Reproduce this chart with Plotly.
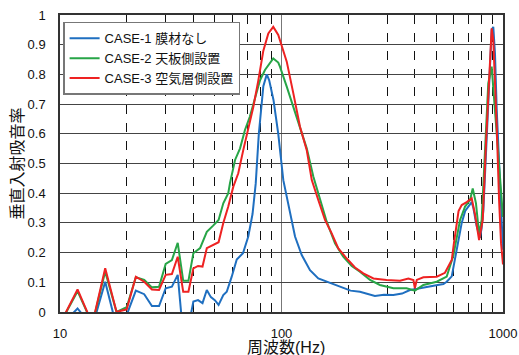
import plotly.graph_objects as go

# ---- data ----
f_case1 = [10, 12, 14, 16, 18, 20, 22, 24, 26, 28, 30, 32, 34, 36, 38, 40, 42, 44, 46, 48,
           50, 52, 54.6, 56.6, 59.6, 62.8, 67, 70.8, 74, 76.5, 79, 82.8, 85.8, 88, 92, 96.7,
           101.9, 109.2, 115.1, 123.4, 134.5, 146.6, 160, 175, 190, 205, 226, 245, 264, 290,
           320, 350, 380, 410, 452, 500, 538, 557, 587, 605, 628, 651, 675, 700, 722, 735,
           760, 787, 800, 815, 844, 867, 889, 904, 920, 937, 962, 986, 1000]
v_case1 = [-0.05, 0.012, -0.05, 0.102, -0.05, -0.01, 0.072, 0.06, 0.02, 0.02, 0.08, 0.085, 0.125, -0.08, -0.05, 0.035, 0.04, 0.03, 0.074, 0.05,
           0.04, 0.024, 0.057, 0.068, 0.119, 0.177, 0.198, 0.254, 0.33, 0.433, 0.6, 0.76, 0.80, 0.78, 0.714, 0.6,
           0.444, 0.332, 0.254, 0.192, 0.141, 0.113, 0.102, 0.09, 0.08, 0.072, 0.068, 0.06, 0.054, 0.058,
           0.057, 0.062, 0.074, 0.078, 0.085, 0.09, 0.094, 0.102, 0.12, 0.17, 0.23, 0.30, 0.34, 0.355, 0.37, 0.35,
           0.29, 0.25, 0.28, 0.34, 0.568, 0.79, 0.95, 0.96, 0.87, 0.68, 0.51, 0.32, 0.21]

f_case2 = [10, 12, 14, 16, 18, 20, 22, 24, 26, 28, 30, 32, 34, 36, 38, 40, 42.9, 46, 49, 52,
           54.6, 57.5, 58.5, 61.7, 65, 68.4, 72, 76, 80, 84.2, 88.7, 91.8, 96.7, 98.4, 105.6, 113.1,
           121.2, 130, 139.2, 149.2, 160, 174.4, 190, 207.5, 226, 251, 278, 320, 367, 400, 437, 502,
           557, 597, 640, 674, 710, 730, 740, 755, 774, 782, 801, 829, 858, 889, 920, 952, 986, 1000]
v_case2 = [-0.04, 0.07, -0.04, 0.136, 0.0, 0.016, 0.117, 0.108, 0.083, 0.085, 0.162, 0.175, 0.233, 0.105, 0.105, 0.198, 0.215, 0.27, 0.29, 0.31,
           0.366, 0.40, 0.433, 0.512, 0.551, 0.613, 0.658, 0.72, 0.78, 0.815, 0.837, 0.854, 0.84, 0.826, 0.759, 0.69,
           0.618, 0.551, 0.456, 0.377, 0.304, 0.231, 0.186, 0.155, 0.136, 0.108, 0.091, 0.08, 0.08, 0.072, 0.091, 0.102,
           0.119, 0.19, 0.31, 0.355, 0.377, 0.416, 0.394, 0.366, 0.287, 0.265, 0.31, 0.568, 0.77, 0.826, 0.68, 0.534, 0.39, 0.32]

f_case3 = [10, 12, 14, 16, 18, 20, 22, 24, 26, 28, 30, 32, 34, 36, 38, 40, 42, 44, 46, 49,
           52, 54.6, 57.5, 60.6, 63.8, 67.2, 70.8, 74.6, 78.6, 82.8, 87.2, 91.8, 96.7, 98.4, 105.6, 113.1,
           121.2, 130, 137, 146.6, 157.2, 168.5, 180.5, 197, 214.7, 234, 260, 298, 343, 374, 394, 400,
           408, 437, 502, 547, 566, 587, 600, 618, 630, 651, 686, 722, 747, 780, 810, 838, 867, 889,
           904, 920, 937, 960, 980, 1000]
v_case3 = [-0.04, 0.076, -0.04, 0.147, 0.0, 0.009, 0.119, 0.102, 0.076, 0.074, 0.125, 0.128, 0.186, 0.068, 0.068, 0.147, 0.155, 0.153, 0.215, 0.225,
           0.235, 0.30, 0.355, 0.422, 0.467, 0.545, 0.613, 0.69, 0.78, 0.88, 0.938, 0.96, 0.933, 0.916, 0.843, 0.736,
           0.624, 0.545, 0.444, 0.377, 0.31, 0.265, 0.214, 0.18, 0.15, 0.13, 0.113, 0.108, 0.105, 0.113, 0.108, 0.08,
           0.108, 0.117, 0.119, 0.132, 0.153, 0.175, 0.23, 0.29, 0.34, 0.36, 0.37, 0.383, 0.33, 0.242, 0.31, 0.568, 0.815, 0.955,
           0.915, 0.79, 0.624, 0.377, 0.231, 0.16]

series_names = ["CASE-1 膜材なし", "CASE-2 天板側設置", "CASE-3 空気層側設置"]
series_colors = ["#1F6FC0", "#27A547", "#EE2222"]

x_tick_vals = [10, 100, 1000]
x_tick_text = ["10", "100", "1000"]
x_minor_vals = [20, 30, 40, 50, 60, 70, 80, 90, 200, 300, 400, 500, 600, 700, 800, 900]
y_tick_vals = [0, 0.1, 0.2, 0.3, 0.4, 0.5, 0.6, 0.7, 0.8, 0.9, 1]
y_tick_text = ["0", "0.1", "0.2", "0.3", "0.4", "0.5", "0.6", "0.7", "0.8", "0.9", "1"]

x_title = "周波数(Hz)"
y_title = "垂直入射吸音率"

FONT = "Liberation Sans, Arial, Noto Sans CJK JP, sans-serif"

fig = go.Figure()
for fx, vy, name, col in zip([f_case1, f_case2, f_case3], [v_case1, v_case2, v_case3],
                             series_names, series_colors):
    fig.add_trace(go.Scatter(x=fx, y=vy, mode="lines", name=name,
                             line=dict(color=col, width=2)))

fig.update_layout(
    width=519, height=355,
    margin=dict(l=60, r=16, t=15, b=43, autoexpand=False),
    paper_bgcolor="white", plot_bgcolor="white",
    font=dict(family=FONT, size=13, color="#111"),
    showlegend=True,
    legend=dict(x=0.007, y=0.977, xanchor="left", yanchor="top",
                bgcolor="white", bordercolor="#777", borderwidth=1.5,
                font=dict(family=FONT, size=13, color="#111"),
                tracegroupgap=0, itemwidth=30),
    annotations=[
        dict(text=y_title, textangle=-90, xref="paper", yref="paper",
             x=-0.097, y=0.5, xanchor="center", yanchor="middle", showarrow=False,
             font=dict(family=FONT, size=16, color="#111")),
        dict(text=x_title, xref="paper", yref="paper",
             x=0.51, y=-0.085, xanchor="center", yanchor="top", showarrow=False,
             font=dict(family=FONT, size=16, color="#111")),
    ],
)

fig.update_xaxes(
    type="log", range=[1, 3], automargin=False,
    tickmode="array", tickvals=x_tick_vals, ticktext=x_tick_text,
    ticks="outside", ticklen=9, tickcolor="rgba(0,0,0,0)",
    showgrid=True, gridcolor="#777", gridwidth=1.3,
    minor=dict(tickmode="array", tickvals=x_minor_vals, showgrid=True,
               gridcolor="#111", griddash="dash", gridwidth=1, ticks=""),
    showline=True, linecolor="#333", linewidth=1.5, mirror=True,
    zeroline=False,
)
fig.update_yaxes(
    range=[0, 1], automargin=False, tickmode="array", tickvals=y_tick_vals, ticktext=y_tick_text,
    ticks="outside", ticklen=10, tickcolor="rgba(0,0,0,0)",
    showgrid=True, gridcolor="#444", gridwidth=1.2,
    showline=True, linecolor="#333", linewidth=1.5, mirror=True,
    zeroline=False,
)

fig.write_html("out.html")
